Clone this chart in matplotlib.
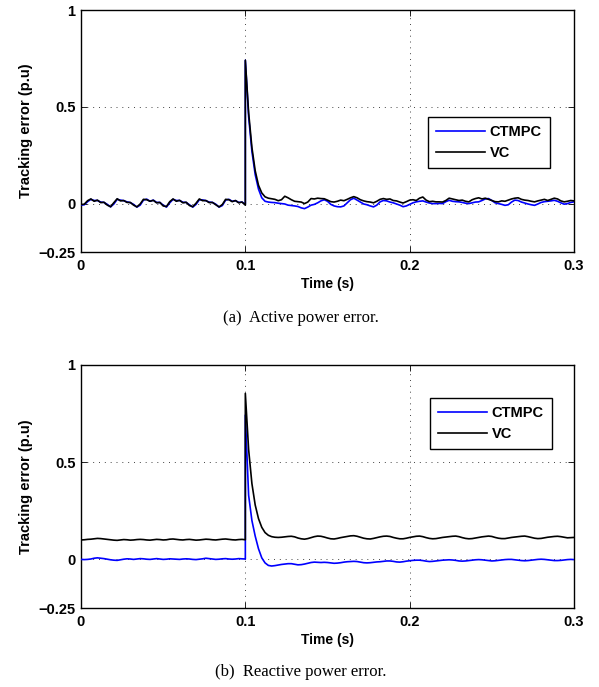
import numpy as np
import matplotlib
matplotlib.use("Agg")
import matplotlib.pyplot as plt

# ---------------- data ----------------
x_ticks = [0, 0.1, 0.2, 0.3]
x_ticklabels = ["0", "0.1", "0.2", "0.3"]
y_ticks = [-0.25, 0, 0.5, 1]
y_ticklabels = ["\u22120.25", "0", "0.5", "1"]
series_names = ["CTMPC", "VC"]
step_time = 0.1

# (a) active power error, samples every 2 ms, t = 0 .. 0.1 (before step)
a_ctmpc_pre = [-0.008, -0.006, 0.010, 0.022, 0.016, 0.016, 0.008, 0.006, -0.004, -0.017,
               -0.002, 0.022, 0.018, 0.015, 0.009, 0.005, -0.004, -0.018, -0.008, 0.018,
               0.023, 0.012, 0.018, 0.006, 0.006, -0.008, -0.018, 0.004, 0.022, 0.016,
               0.016, 0.007, 0.006, -0.006, -0.018, -0.004, 0.020, 0.019, 0.015, 0.008,
               0.006, -0.003, -0.018, -0.010, 0.018, 0.022, 0.012, 0.015, 0.006, 0.008,
               -0.004]
a_vc_pre = [-0.005, -0.003, 0.015, 0.024, 0.012, 0.018, 0.005, 0.007, -0.008, -0.016,
            0.005, 0.025, 0.014, 0.016, 0.006, 0.006, -0.008, -0.017, -0.002, 0.022,
            0.020, 0.012, 0.017, 0.004, 0.006, -0.012, -0.015, 0.010, 0.024, 0.012,
            0.017, 0.004, 0.007, -0.010, -0.016, 0.002, 0.024, 0.015, 0.016, 0.005,
            0.006, -0.006, -0.017, -0.005, 0.022, 0.020, 0.010, 0.016, 0.004, 0.008,
            -0.008]
# t = 0.1 .. 0.3 (after step)
a_ctmpc_post = [0.740, 0.450, 0.270, 0.150, 0.075, 0.030, 0.012, 0.008, 0.006, 0.005,
                0.002, 0.000, -0.002, -0.008, -0.010, -0.012, -0.015, -0.022, -0.026, -0.018,
                -0.008, -0.004, 0.004, 0.014, 0.020, 0.012, -0.004, -0.012, -0.016, -0.017,
                -0.012, 0.004, 0.020, 0.028, 0.018, 0.008, -0.002, -0.006, -0.012, -0.017,
                -0.008, 0.009, 0.016, 0.014, 0.008, 0.004, -0.002, -0.008, -0.016, -0.012,
                -0.004, 0.004, 0.009, 0.012, 0.014, 0.008, 0.003, 0.000, 0.000, 0.001,
                0.000, 0.010, 0.017, 0.012, 0.010, 0.009, 0.006, 0.002, 0.000, 0.004,
                0.008, 0.009, 0.016, 0.024, 0.026, 0.016, 0.004, 0.000, -0.004, -0.009,
                -0.006, 0.008, 0.018, 0.016, 0.008, 0.003, -0.002, -0.006, -0.009, -0.002,
                0.006, 0.010, 0.012, 0.014, 0.017, 0.012, 0.004, -0.003, 0.000, 0.006,
                0.009]
a_vc_post = [0.740, 0.470, 0.290, 0.170, 0.095, 0.055, 0.035, 0.028, 0.025, 0.022,
             0.015, 0.020, 0.038, 0.030, 0.020, 0.012, 0.010, 0.008, 0.000, 0.008,
             0.026, 0.024, 0.028, 0.026, 0.025, 0.018, 0.010, 0.008, 0.012, 0.018,
             0.015, 0.022, 0.030, 0.036, 0.030, 0.020, 0.014, 0.010, 0.008, 0.004,
             0.012, 0.022, 0.026, 0.022, 0.024, 0.016, 0.014, 0.008, 0.003, 0.010,
             0.018, 0.020, 0.016, 0.028, 0.034, 0.018, 0.010, 0.012, 0.009, 0.009,
             0.008, 0.016, 0.028, 0.024, 0.020, 0.016, 0.018, 0.012, 0.009, 0.020,
             0.026, 0.030, 0.024, 0.028, 0.022, 0.016, 0.010, 0.009, 0.014, 0.012,
             0.018, 0.024, 0.028, 0.030, 0.022, 0.018, 0.016, 0.012, 0.009, 0.014,
             0.018, 0.022, 0.016, 0.022, 0.028, 0.024, 0.014, 0.009, 0.012, 0.016,
             0.014]

# (b) reactive power error
b_ctmpc_pre = [0.000, -0.001, 0.000, 0.002, 0.006, 0.008, 0.006, 0.004, 0.001, -0.002,
               -0.004, -0.005, -0.002, 0.001, 0.003, 0.002, 0.000, 0.002, 0.004, 0.003,
               0.001, 0.000, 0.002, 0.004, 0.002, 0.000, 0.001, 0.003, 0.002, 0.001,
               0.000, 0.002, 0.003, 0.002, 0.000, -0.001, 0.001, 0.003, 0.006, 0.004,
               0.002, 0.000, 0.001, 0.003, 0.004, 0.002, 0.001, 0.002, 0.004, 0.003,
               0.002]
b_vc_pre = [0.100, 0.101, 0.103, 0.104, 0.106, 0.108, 0.107, 0.105, 0.103, 0.101,
            0.099, 0.098, 0.100, 0.102, 0.101, 0.099, 0.100, 0.102, 0.103, 0.102,
            0.100, 0.099, 0.101, 0.103, 0.102, 0.100, 0.101, 0.104, 0.105, 0.103,
            0.101, 0.100, 0.102, 0.103, 0.101, 0.099, 0.100, 0.102, 0.104, 0.103,
            0.101, 0.100, 0.102, 0.104, 0.105, 0.103, 0.101, 0.100, 0.102, 0.103,
            0.101]
b_ctmpc_post = [0.742, 0.330, 0.200, 0.120, 0.055, 0.008, -0.018, -0.031, -0.034, -0.032,
                -0.029, -0.026, -0.024, -0.022, -0.022, -0.025, -0.028, -0.027, -0.024, -0.020,
                -0.016, -0.014, -0.015, -0.016, -0.015, -0.016, -0.018, -0.020, -0.019, -0.017,
                -0.014, -0.012, -0.011, -0.010, -0.011, -0.014, -0.017, -0.018, -0.017, -0.015,
                -0.013, -0.012, -0.010, -0.008, -0.008, -0.010, -0.013, -0.014, -0.012, -0.009,
                -0.007, -0.005, -0.004, -0.004, -0.006, -0.009, -0.011, -0.010, -0.008, -0.006,
                -0.004, -0.003, -0.002, -0.003, -0.005, -0.008, -0.009, -0.008, -0.006, -0.004,
                -0.002, -0.001, -0.002, -0.004, -0.006, -0.008, -0.007, -0.005, -0.003, -0.001,
                0.000, 0.000, -0.002, -0.004, -0.006, -0.007, -0.006, -0.004, -0.002, 0.000,
                0.001, 0.000, -0.002, -0.004, -0.006, -0.006, -0.005, -0.003, -0.001, 0.000,
                -0.001]
b_vc_post = [0.854, 0.565, 0.390, 0.280, 0.210, 0.165, 0.138, 0.124, 0.117, 0.114,
             0.113, 0.114, 0.116, 0.118, 0.119, 0.116, 0.110, 0.106, 0.104, 0.107,
             0.112, 0.117, 0.120, 0.119, 0.115, 0.110, 0.106, 0.105, 0.108, 0.112,
             0.115, 0.118, 0.121, 0.122, 0.119, 0.114, 0.109, 0.106, 0.105, 0.108,
             0.112, 0.116, 0.119, 0.120, 0.118, 0.113, 0.109, 0.106, 0.106, 0.109,
             0.113, 0.116, 0.119, 0.120, 0.117, 0.112, 0.108, 0.106, 0.107, 0.110,
             0.113, 0.115, 0.117, 0.119, 0.120, 0.117, 0.112, 0.108, 0.106, 0.107,
             0.110, 0.113, 0.116, 0.118, 0.120, 0.118, 0.113, 0.109, 0.107, 0.107,
             0.110, 0.113, 0.115, 0.117, 0.119, 0.120, 0.117, 0.113, 0.109, 0.107,
             0.108, 0.111, 0.114, 0.116, 0.118, 0.119, 0.117, 0.114, 0.111, 0.112,
             0.113]

captions = ["(a)  Active power error.", "(b)  Reactive power error."]
x_label = "Time (s)"
y_label = "Tracking error (p.u)"

# ---------------- drawing ----------------
plt.rcParams["font.family"] = ["Liberation Sans", "DejaVu Sans"]
plt.rcParams["font.weight"] = "bold"

W, H = 599, 687
fig = plt.figure(figsize=(W / 100, H / 100), dpi=100)


def series(pre, post):
    t_pre = np.linspace(0.0, step_time, len(pre))
    t_post = np.linspace(step_time, 0.3, len(post))
    return np.concatenate([t_pre, t_post]), np.concatenate([pre, post])


def make_axes(rect, ctmpc, vc, leg_anchor):
    ax = fig.add_axes(rect)
    t1, y1 = series(*ctmpc)
    t2, y2 = series(*vc)
    ax.plot(t1, y1, color=(0, 0, 1), lw=1.2, label=series_names[0], zorder=3)
    ax.plot(t2, y2, color="black", lw=1.2, label=series_names[1], zorder=4)
    ax.set_xlim(0, 0.3)
    ax.set_ylim(-0.25, 1)
    ax.set_xticks(x_ticks)
    ax.set_xticklabels(x_ticklabels)
    ax.set_yticks(y_ticks)
    ax.set_yticklabels(y_ticklabels)
    ax.tick_params(direction="in", top=True, right=True, length=4, width=0.6,
                   labelsize=10.5, pad=4)
    ax.tick_params(axis="x", pad=5)
    for lab in ax.get_xticklabels() + ax.get_yticklabels():
        lab.set_fontweight("bold")
    ax.grid(True, linestyle=(0, (1, 5)), color="#444444", lw=0.7)
    for s in ax.spines.values():
        s.set_linewidth(1.0)
    ax.set_xlabel(x_label, fontsize=10, fontweight="bold", labelpad=3)
    ax.set_ylabel(y_label, fontsize=10.5, fontweight="bold", labelpad=4)
    leg = ax.legend(loc="upper right", bbox_to_anchor=leg_anchor, fancybox=False,
                    framealpha=1, edgecolor="black", handlelength=3.3,
                    prop={"weight": "bold", "size": 10.5}, borderpad=0.55,
                    labelspacing=0.5, handletextpad=0.35, borderaxespad=0)
    leg.get_frame().set_linewidth(1.0)
    return ax


ax1 = make_axes([81 / W, 1 - 252 / H, 493 / W, 242 / H],
                (a_ctmpc_pre, a_ctmpc_post), (a_vc_pre, a_vc_post), (0.951, 0.558))
ax2 = make_axes([81 / W, 1 - 608 / H, 493 / W, 243 / H],
                (b_ctmpc_pre, b_ctmpc_post), (b_vc_pre, b_vc_post), (0.955, 0.864))

fig.text(0.502, 1 - 318 / H, captions[0], ha="center", va="center",
         family=["Liberation Serif", "DejaVu Serif"], fontweight="normal", fontsize=12)
fig.text(0.502, 1 - 672 / H, captions[1], ha="center", va="center",
         family=["Liberation Serif", "DejaVu Serif"], fontweight="normal", fontsize=12)

fig.savefig("out.png", dpi=100)
